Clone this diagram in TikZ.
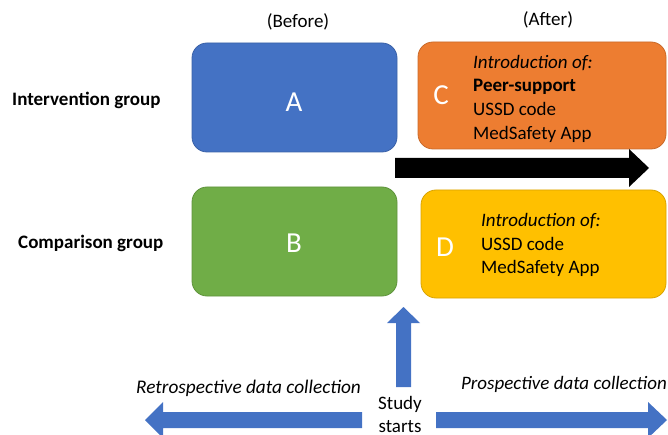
\documentclass[tikz,border=0pt]{standalone}
\usepackage{fontspec}
\setmainfont{Carlito}
\definecolor{cblue}{HTML}{4472C4}
\definecolor{cgreen}{HTML}{70AD47}
\definecolor{corange}{HTML}{ED7D31}
\definecolor{cyellow}{HTML}{FFC000}
\tikzset{
  gbox/.style={rounded corners=15pt, line width=0.8pt},
  bigletter/.style={text=white, font=\fontsize{29}{34}\selectfont, inner sep=0pt},
  lbl/.style={font=\fontsize{19}{23.7}\selectfont, inner sep=0pt},
  boxtext/.style={font=\fontsize{19}{23.7}\selectfont, inner sep=0pt, align=left, anchor=west},
  blockarrow/.style={fill=cblue, draw=none}
}
\begin{document}
\begin{tikzpicture}[x=1pt,y=-1pt]
\useasboundingbox (0,0) rectangle (668,435);
\clip (0,0) rectangle (668,435);
% boxes
\draw[gbox, fill=cblue, draw=cblue!85!black] (192,43) rectangle (397,152);
\draw[gbox, fill=cgreen, draw=cgreen!85!black] (192,187) rectangle (397,296);
\draw[gbox, fill=corange, draw=corange!85!black] (418,42) rectangle (666,149);
\draw[gbox, fill=cyellow, draw=cyellow!85!black] (421,190) rectangle (666,298);
\node[bigletter] (A) at (294,102) {A};
\node[bigletter] (B) at (294,243) {B};
\node[bigletter] (C) at (441,95) {C};
\node[bigletter] (D) at (445,247) {D};
\node[boxtext] (Ctext) at (473,98.5) {\textit{Introduction of:}\\\textbf{Peer-support}\\USSD code\\MedSafety App};
\node[boxtext] (Dtext) at (481,245) {\textit{Introduction of:}\\USSD code\\MedSafety App};
% headers
\node[lbl] (before) at (298,22) {(Before)};
\node[lbl] (after) at (548,20) {(After)};
\node[lbl, anchor=west, font=\fontsize{19}{23.7}\selectfont\bfseries] (ig) at (12,100) {Intervention group};
\node[lbl, anchor=west, font=\fontsize{19}{23.7}\selectfont\bfseries] (cg) at (18,243) {Comparison group};
% black time arrow
\fill[black] (395,158) -- (629,158) -- (629,149) -- (649,168) -- (629,187) -- (629,178) -- (395,178) -- cycle;
% up arrow
\fill[blockarrow] (396,387) -- (396,323) -- (387,323) -- (403.5,307) -- (420,323) -- (411,323) -- (411,387) -- cycle;
% left arrow
\fill[blockarrow] (362,412) -- (163,412) -- (163,402) -- (145,420) -- (163,438) -- (163,428) -- (362,428) -- cycle;
% right arrow
\fill[blockarrow] (436,412) -- (648,412) -- (648,402) -- (667,420) -- (648,438) -- (648,428) -- (436,428) -- cycle;
% bottom labels
\node[lbl, align=center] (study) at (400,414.5) {Study\\starts};
\node[lbl, anchor=west, font=\fontsize{19.3}{23.7}\selectfont] (retro) at (136,388) {\textit{Retrospective data collection}};
\node[lbl, anchor=east] (pro) at (667,384) {\textit{Prospective data collection}};
\end{tikzpicture}
\end{document}
